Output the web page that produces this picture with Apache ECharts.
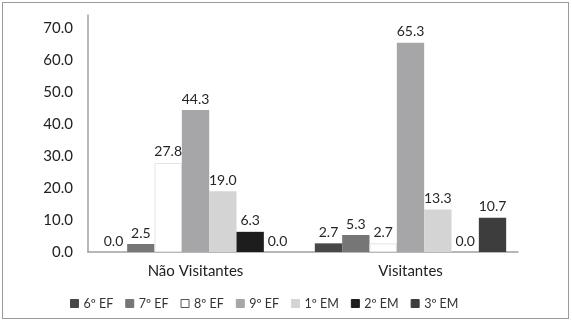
<!DOCTYPE html>
<html>
<head>
<meta charset="utf-8">
<script src="https://cdn.jsdelivr.net/npm/echarts@6/dist/echarts.min.js"></script>
<style>
  html, body { margin: 0; padding: 0; background: #fff; }
  #frame { position: absolute; left: 2px; top: 2px; width: 565px; height: 315px; border: 1px solid #9a9a9a; }
  #chart { position: absolute; left: 0; top: 0; width: 572px; height: 322px; }
</style>
</head>
<body>
<div id="frame"></div>
<div id="chart"></div>
<script>
// groups on the x axis
const categories = ['Não Visitantes', 'Visitantes'];
// school grades (legend)
const grades = ['6º EF', '7º EF', '8º EF', '9º EF', '1º EM', '2º EM', '3º EM'];
// values per grade: [Não Visitantes, Visitantes]
const ef6 = [0.0, 2.7];
const ef7 = [2.5, 5.3];
const ef8 = [27.8, 2.7];
const ef9 = [44.3, 65.3];
const em1 = [19.0, 13.3];
const em2 = [6.3, 0.0];
const em3 = [0.0, 10.7];
// axis runs a little past the last labelled tick (70.0)
const yTicks = { min: 0, max: 74, interval: 10 };

const values = [ef6, ef7, ef8, ef9, em1, em2, em3];
const colors = ['#474747', '#767676', '#ffffff', '#a6a6a9', '#d4d4d4', '#1d1d1d', '#3d3d3d'];
const font = 'Lato, "Open Sans", sans-serif';

const chart = echarts.init(document.getElementById('chart'));

const series = grades.map((g, i) => ({
  name: g,
  type: 'bar',
  data: values[i],
  barGap: '0%',
  barCategoryGap: '11%',
  itemStyle: {
    color: colors[i],
    borderColor: i === 2 ? '#e4e4e4' : colors[i],
    borderWidth: i === 2 ? 1 : 0
  },
  label: {
    show: true,
    position: 'top',
    distance: 4,
    color: '#262626',
    fontSize: 14,
    fontFamily: font,
    formatter: p => p.value.toFixed(1)
  }
}));

chart.setOption({
  animation: false,
  color: colors,
  grid: { left: 88, right: 54, top: 15, bottom: 70 },
  legend: {
    data: grades.map((g, i) => ({
      name: g,
      itemStyle: { color: colors[i], borderColor: i === 2 ? '#555' : colors[i], borderWidth: 1 }
    })),
    bottom: 7,
    left: 65,
    itemWidth: 8,
    itemHeight: 8,
    itemGap: 12,
    icon: 'rect',
    textStyle: { color: '#333', fontSize: 12.5, fontFamily: font }
  },
  xAxis: {
    type: 'category',
    data: categories,
    axisLine: { lineStyle: { color: '#a0a0a0', width: 1.5 } },
    axisTick: { show: false },
    axisLabel: { color: '#222', fontSize: 15, fontFamily: font, margin: 12 }
  },
  yAxis: {
    type: 'value',
    min: yTicks.min,
    max: yTicks.max,
    interval: yTicks.interval,
    axisLine: { show: true, lineStyle: { color: '#a0a0a0', width: 1.5 } },
    axisTick: { show: false },
    splitLine: { show: false },
    axisLabel: {
      color: '#222',
      fontSize: 15,
      fontFamily: font,
      margin: 15,
      showMaxLabel: false,
      formatter: v => v.toFixed(1)
    }
  },
  series: series
});
</script>
</body>
</html>
